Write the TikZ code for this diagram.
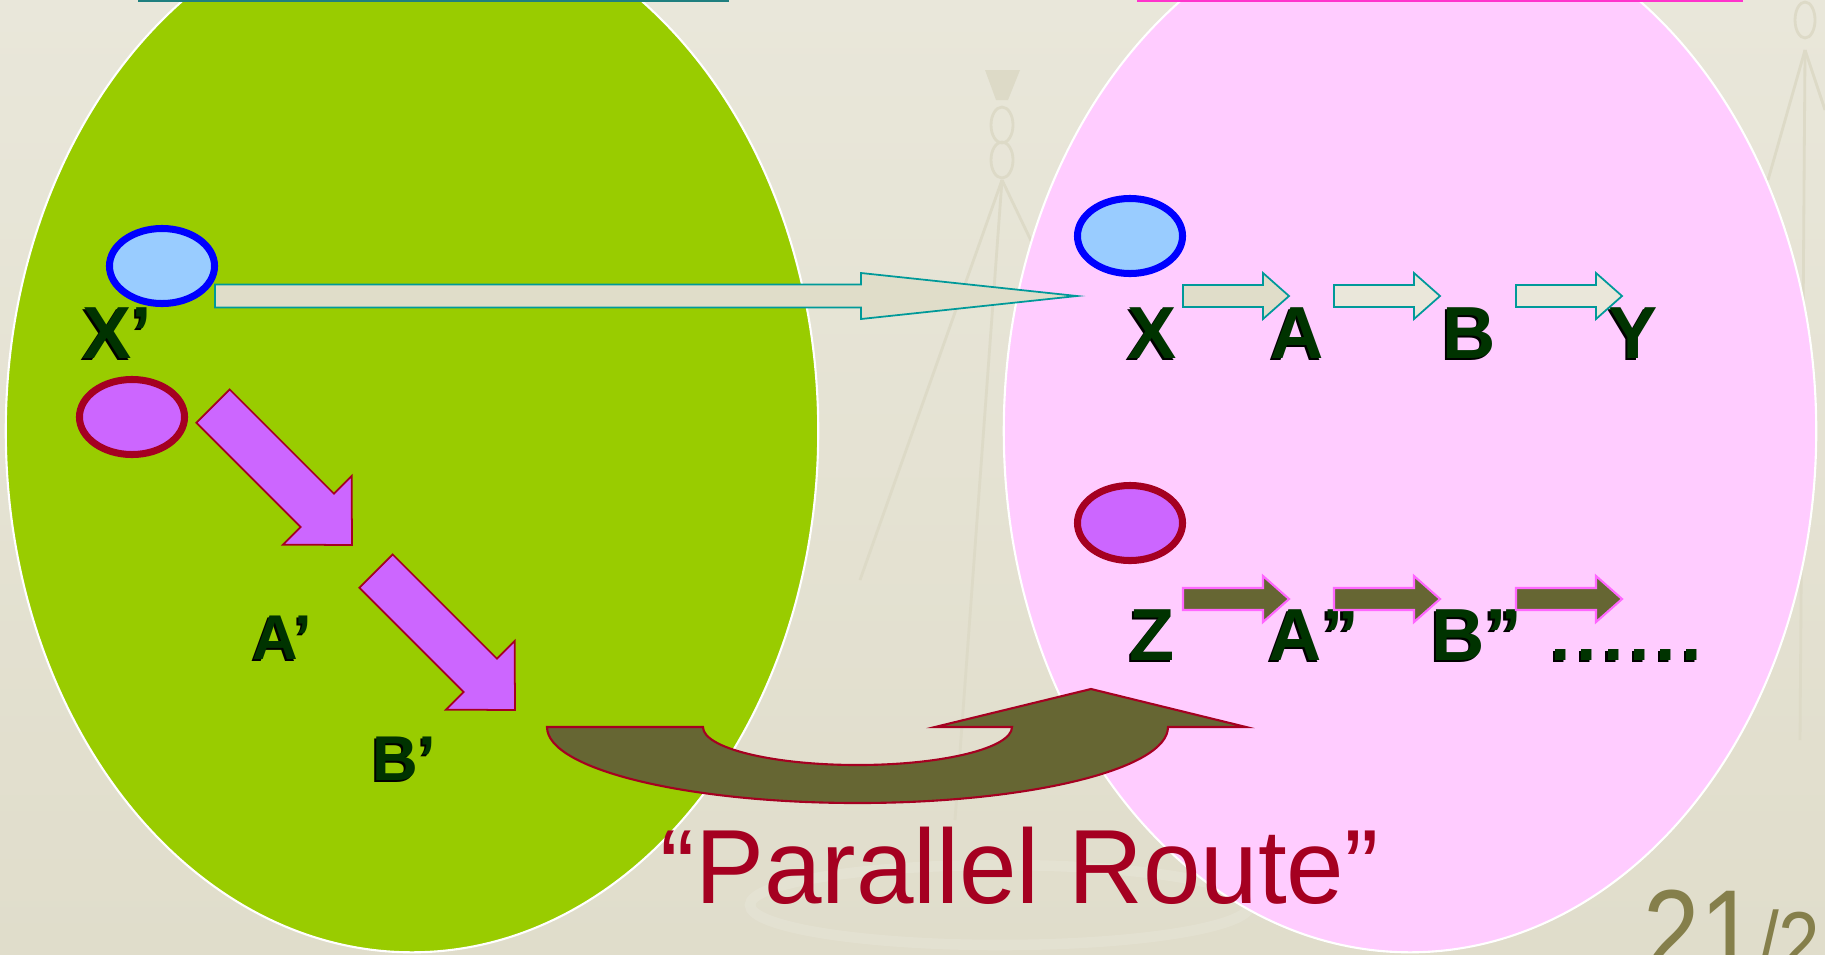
\documentclass[tikz,border=0pt]{standalone}
\usepackage{fontspec}
\setmainfont{Liberation Sans}
\newfontfamily\routefont[FakeStretch=0.98]{Liberation Sans}
\newfontfamily\pagefont[FakeStretch=0.85]{Liberation Sans}
\usetikzlibrary{shapes.geometric, calc}

\definecolor{bgtop}{RGB}{233,231,218}
\definecolor{bgbot}{RGB}{224,221,203}
\definecolor{deco}{RGB}{221,218,199}
\definecolor{setgreen}{RGB}{153,204,0}
\definecolor{setpink}{RGB}{255,204,255}
\definecolor{dotblue}{RGB}{153,204,255}
\definecolor{dotpurple}{RGB}{204,102,255}
\definecolor{wine}{RGB}{165,0,33}
\definecolor{arrteal}{RGB}{0,153,153}
\definecolor{arrbeige}{RGB}{224,221,201}
\definecolor{arrlight}{RGB}{234,231,218}
\definecolor{routeolive}{RGB}{102,102,51}
\definecolor{arrpink}{RGB}{255,102,255}
\definecolor{lblgreen}{RGB}{0,51,0}
\definecolor{pagenum}{RGB}{133,127,75}
\definecolor{boxteal}{RGB}{31,127,127}
\definecolor{boxpink}{RGB}{255,51,204}

% letters with a dark drop shadow
\newcommand{\shtext}[1]{\makebox[0pt][l]{\hspace{-0.6pt}\raisebox{-0.6pt}{\color{black}#1}}#1}
% block arrow: style, tail, tip, shaft half width, head half width, head length
\newcommand{\blockarrow}[6][]{%
  \coordinate (hb) at ($(#3)!#6!(#2)$);
  \draw[#1] ($(#2)!#4!90:(#3)$) -- ($(hb)!#4!-90:(#2)$) -- ($(hb)!#5!-90:(#2)$) -- (#3)
    -- ($(hb)!#5!90:(#2)$) -- ($(hb)!#4!90:(#2)$) -- ($(#2)!#4!-90:(#3)$) -- cycle;}

\begin{document}
\begin{tikzpicture}[x=0.01cm, y=-0.01cm,
    bigset/.style={ellipse, draw=white, line width=0.6pt, minimum width=8.12cm, minimum height=10.42cm, inner sep=0},
    dot/.style={ellipse, line width=2pt, minimum width=1.05cm, minimum height=0.75cm, inner sep=0},
    lbl/.style={text=lblgreen, font=\fontsize{21}{25}\selectfont\bfseries, inner sep=0},
    lblsmall/.style={lbl, font=\fontsize{18}{22}\selectfont\bfseries},
    tealarr/.style={draw=arrteal, line width=0.5pt},
    olivearr/.style={draw=arrpink, fill=routeolive, line width=0.6pt},
    diagarr/.style={draw=wine, fill=dotpurple, line width=0.5pt},
    uturn/.style={draw=wine, fill=routeolive, line width=0.6pt},
    decoline/.style={draw=deco, line width=0.8pt}]
  \useasboundingbox (0,0) rectangle (1825,954);
  \clip (0,0) rectangle (1825,954);
  \shade[top color=bgtop, bottom color=bgbot] (0,0) rectangle (1825,954);

  % faint lamps in the background
  \fill[deco] (985,70) -- (1020,70) -- (1008,100) -- (996,100) -- cycle;
  \draw[decoline] (1002,125) ellipse (11 and 18);
  \draw[decoline] (1002,160) ellipse (11 and 18);
  \draw[decoline] (1002,180) -- (860,580);
  \draw[decoline] (1002,180) -- (955,820);
  \draw[decoline] (1002,180) -- (1045,270);
  \draw[decoline] (1805,20) ellipse (10 and 18);
  \draw[decoline] (1805,50) -- (1768,180);
  \draw[decoline] (1805,50) -- (1800,740);
  \draw[decoline] (1805,50) -- (1825,110);
  \draw[white, opacity=0.12, line width=3pt] (1000,905) ellipse (250 and 40);

  \node[bigset, fill=setgreen] (left) at (412,431) {};
  \node[bigset, fill=setpink] (right) at (1410,431) {};

  % text boxes cut off at the top
  \draw[boxteal, line width=0.6pt, fill=white] (139,-20) rectangle (728,1);
  \draw[boxpink, line width=0.6pt, fill=white] (1138,-20) rectangle (1742,1);

  \node[lbl, anchor=base west] (xp) at (82,358) {\shtext{X’}};
  \node[lblsmall, anchor=base west] (ap) at (252,659) {\shtext{A’}};
  \node[lblsmall, anchor=base west] (bp) at (372,780) {\shtext{B’}};
  \node[lbl, anchor=base] (x) at (1152,358) {\shtext{X}};
  \node[lbl, anchor=base] (a) at (1297,358) {\shtext{A}};
  \node[lbl, anchor=base] (b) at (1469,358) {\shtext{B}};
  \node[lbl, anchor=base] (y) at (1633,358) {\shtext{Y}};
  \node[lbl, anchor=base] (z) at (1152,660) {\shtext{Z}};
  \node[lbl, anchor=base west] (a2) at (1268,660) {\shtext{A”}};
  \node[lbl, anchor=base west] (b2) at (1431,660) {\shtext{B”}};
  \node[lbl, anchor=base west] (etc) at (1550,660)
    {\shtext{.\kern1.6pt.\kern1.6pt.\kern1.6pt.\kern1.6pt.\kern1.6pt.}};

  \node[dot, draw=blue, fill=dotblue] (xs) at (162,266) {};
  \node[dot, draw=wine, fill=dotpurple] (zs) at (132,417) {};
  \node[dot, draw=blue, fill=dotblue] (xt) at (1130,236) {};
  \node[dot, draw=wine, fill=dotpurple] (zt) at (1130,523) {};

  \coordinate (m0) at (215,296); \coordinate (m1) at (1077,296);
  \blockarrow[tealarr, fill=arrbeige]{m0}{m1}{0.115cm}{0.23cm}{2.16cm}
  \foreach \t/\h/\c in {1183/1289/arrbeige, 1334/1440/arrlight, 1516/1622/arrlight} {
    \coordinate (s0) at (\t,296); \coordinate (s1) at (\h,296);
    \blockarrow[tealarr, fill=\c]{s0}{s1}{0.11cm}{0.23cm}{0.26cm}
    \coordinate (s0) at (\t,599); \coordinate (s1) at (\h,599);
    \blockarrow[olivearr]{s0}{s1}{0.11cm}{0.23cm}{0.26cm}
  }
  \coordinate (d0) at (213,406); \coordinate (d1) at (352,545);
  \blockarrow[diagarr]{d0}{d1}{0.235cm}{0.485cm}{0.49cm}
  \coordinate (d2) at (376,571); \coordinate (d3) at (515,710);
  \blockarrow[diagarr]{d2}{d3}{0.235cm}{0.485cm}{0.49cm}

  % the turn-around arrow
  \draw[uturn] (547,727) -- (703,727)
    .. controls (703,748) and (772,765) .. (857.5,765)
    .. controls (943,765) and (1012,748) .. (1012,727)
    -- (935,727) -- (1091,689) -- (1246,727) -- (1168,727)
    .. controls (1168,769) and (1029,803) .. (857.5,803)
    .. controls (686,803) and (547,769) .. (547,727) -- cycle;

  \node[text=wine, font=\routefont\fontsize{30}{36}\selectfont, anchor=base west, inner sep=0] (title) at (660,903) {“Parallel Route”};
  \node[text=pagenum, font=\pagefont\fontsize{34}{40}\selectfont, anchor=base west, inner sep=0] (pg) at (1643,973) {21};
  \node[text=pagenum, font=\pagefont\fontsize{25}{30}\selectfont, anchor=base west, inner sep=0] (pgof) at (pg.base east) {/2};
\end{tikzpicture}
\end{document}
